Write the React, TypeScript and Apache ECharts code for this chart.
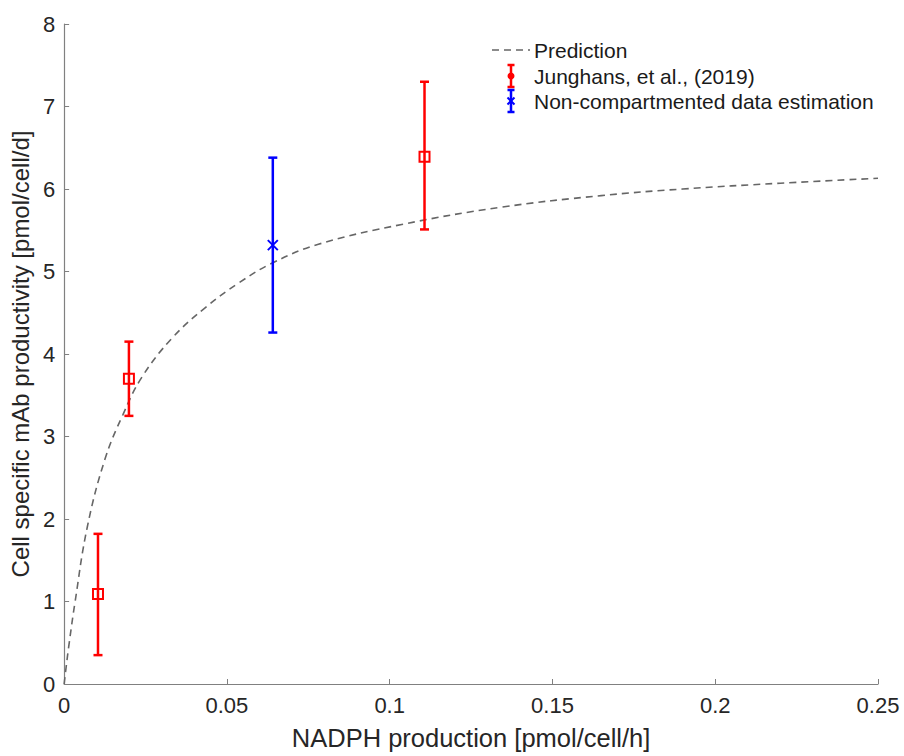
import React, { useEffect, useRef } from "react";
import * as echarts from "echarts";

// Prediction curve: [NADPH production, productivity]
const predictionX = [0, 0.0006, 0.0015, 0.0033, 0.0071, 0.0125, 0.018, 0.0239, 0.0331, 0.0433, 0.0536, 0.0638, 0.0781, 0.1037, 0.1344, 0.165, 0.19, 0.22, 0.25];
const predictionY = [0, 0.2, 0.48, 0.98, 1.9, 2.72, 3.26, 3.72, 4.19, 4.56, 4.86, 5.1, 5.33, 5.57, 5.78, 5.92, 6.0, 6.07, 6.13];

// Junghans et al. (2019): x, mean, lower, upper
const junghansX = [0.0104, 0.0199, 0.1107];
const junghansY = [1.09, 3.7, 6.39];
const junghansLow = [0.35, 3.25, 5.51];
const junghansHigh = [1.82, 4.15, 7.3];

// Non-compartmented data estimation
const ncX = [0.0641];
const ncY = [5.32];
const ncLow = [4.26];
const ncHigh = [6.38];

const xTicks = [0, 0.05, 0.1, 0.15, 0.2, 0.25];
const yTicks = [0, 1, 2, 3, 4, 5, 6, 7, 8];

const FONT = "'Liberation Sans', Arial, Helvetica, sans-serif";

function errorRender(color: string, marker: "square" | "cross") {
  return (params: any, api: any) => {
    const x = api.value(0);
    const y = api.value(1);
    const lo = api.value(2);
    const hi = api.value(3);
    const pc = api.coord([x, y]);
    const pl = api.coord([x, lo]);
    const ph = api.coord([x, hi]);
    const cw = 4.5;
    const st = { stroke: color, lineWidth: 2.5, fill: "none" };
    const children: any[] = [
      { type: "line", shape: { x1: pl[0], y1: pl[1], x2: ph[0], y2: ph[1] }, style: st },
      { type: "line", shape: { x1: pl[0] - cw, y1: pl[1], x2: pl[0] + cw, y2: pl[1] }, style: st },
      { type: "line", shape: { x1: ph[0] - cw, y1: ph[1], x2: ph[0] + cw, y2: ph[1] }, style: st },
    ];
    if (marker === "square") {
      children.push({
        type: "rect",
        shape: { x: pc[0] - 5, y: pc[1] - 5, width: 10, height: 10 },
        style: { stroke: color, lineWidth: 2, fill: "none" },
      });
    } else {
      const s = 5;
      children.push(
        { type: "line", shape: { x1: pc[0] - s, y1: pc[1] - s, x2: pc[0] + s, y2: pc[1] + s }, style: { stroke: color, lineWidth: 2 } },
        { type: "line", shape: { x1: pc[0] - s, y1: pc[1] + s, x2: pc[0] + s, y2: pc[1] - s }, style: { stroke: color, lineWidth: 2 } }
      );
    }
    return { type: "group", children };
  };
}

export default function App() {
  const ref = useRef<HTMLDivElement>(null);
  useEffect(() => {
    if (!ref.current) return;
    const chart = echarts.init(ref.current, null, { renderer: "svg" });
    const axisColor = "#808080";
    const textColor = "#262626";
    const legendX = 511;
    const legendText = 534;
    const legendRows = [50, 76, 101];
    const redIcon = (cy: number) => [
      { type: "line", shape: { x1: legendX, y1: cy - 11, x2: legendX, y2: cy + 11 }, style: { stroke: "#ff0000", lineWidth: 2.5 } },
      { type: "line", shape: { x1: legendX - 3.5, y1: cy - 11, x2: legendX + 3.5, y2: cy - 11 }, style: { stroke: "#ff0000", lineWidth: 2.5 } },
      { type: "line", shape: { x1: legendX - 3.5, y1: cy + 11, x2: legendX + 3.5, y2: cy + 11 }, style: { stroke: "#ff0000", lineWidth: 2.5 } },
      { type: "circle", shape: { cx: legendX, cy, r: 3.5 }, style: { fill: "#ff0000" } },
    ];
    const blueIcon = (cy: number) => [
      { type: "line", shape: { x1: legendX, y1: cy - 11, x2: legendX, y2: cy + 11 }, style: { stroke: "#0000ff", lineWidth: 2.5 } },
      { type: "line", shape: { x1: legendX - 3.5, y1: cy - 11, x2: legendX + 3.5, y2: cy - 11 }, style: { stroke: "#0000ff", lineWidth: 2.5 } },
      { type: "line", shape: { x1: legendX - 3.5, y1: cy + 11, x2: legendX + 3.5, y2: cy + 11 }, style: { stroke: "#0000ff", lineWidth: 2.5 } },
      { type: "line", shape: { x1: legendX - 3.5, y1: cy - 3.5, x2: legendX + 3.5, y2: cy + 3.5 }, style: { stroke: "#0000ff", lineWidth: 2 } },
      { type: "line", shape: { x1: legendX - 3.5, y1: cy + 3.5, x2: legendX + 3.5, y2: cy - 3.5 }, style: { stroke: "#0000ff", lineWidth: 2 } },
    ];
    const legendFont = { fontFamily: FONT, fontSize: 21, fill: "#1a1a1a" };
    chart.setOption({
      animation: false,
      backgroundColor: "#ffffff",
      grid: { left: 62, right: 26, top: 24, bottom: 69, containLabel: false },
      xAxis: {
        type: "value",
        min: 0,
        max: 0.25,
        interval: 0.05,
        name: "NADPH production [pmol/cell/h]",
        nameLocation: "middle",
        nameGap: 41,
        nameTextStyle: { fontFamily: FONT, fontSize: 25.5, color: textColor },
        axisLine: { show: true, lineStyle: { color: axisColor, width: 1.2 } },
        axisTick: { show: true, inside: true, length: 5, lineStyle: { color: axisColor } },
        axisLabel: {
          fontFamily: FONT,
          fontSize: 22,
          color: textColor,
          margin: 10,
          formatter: (v: number) => {
            const m = xTicks.find((t) => Math.abs(t - v) < 1e-9);
            return m === undefined ? "" : String(m);
          },
        },
        splitLine: { show: false },
      },
      yAxis: {
        type: "value",
        min: 0,
        max: 8,
        interval: 1,
        name: "Cell specific mAb productivity [pmol/cell/d]",
        nameLocation: "middle",
        nameGap: 28,
        nameTextStyle: { fontFamily: FONT, fontSize: 24, color: textColor },
        axisLine: { show: true, lineStyle: { color: axisColor, width: 1.2 } },
        axisTick: { show: true, inside: true, length: 5, lineStyle: { color: axisColor } },
        axisLabel: {
          fontFamily: FONT,
          fontSize: 22,
          color: textColor,
          margin: 9,
          formatter: (v: number) => {
            const m = yTicks.find((t) => Math.abs(t - v) < 1e-9);
            return m === undefined ? "" : String(m);
          },
        },
        splitLine: { show: false },
      },
      series: [
        {
          name: "Prediction",
          type: "line",
          data: predictionX.map((x, i) => [x, predictionY[i]]),
          showSymbol: false,
          smooth: 0.4,
          lineStyle: { color: "#666666", width: 1.6, type: [7, 5] },
          z: 2,
        },
        {
          name: "Junghans, et al., (2019)",
          type: "custom",
          renderItem: errorRender("#ff0000", "square"),
          data: junghansX.map((x, i) => [x, junghansY[i], junghansLow[i], junghansHigh[i]]),
          encode: { x: 0, y: [1, 2, 3] },
          z: 3,
        },
        {
          name: "Non-compartmented data estimation",
          type: "custom",
          renderItem: errorRender("#0000ff", "cross"),
          data: ncX.map((x, i) => [x, ncY[i], ncLow[i], ncHigh[i]]),
          encode: { x: 0, y: [1, 2, 3] },
          z: 3,
        },
      ],
      graphic: [
        {
          type: "group",
          children: [
            { type: "line", shape: { x1: 492, y1: legendRows[0], x2: 530, y2: legendRows[0] }, style: { stroke: "#666666", lineWidth: 1.6, lineDash: [7, 5] } },
            { type: "text", x: legendText, y: legendRows[0], style: { ...legendFont, text: "Prediction", verticalAlign: "middle" } },
            ...redIcon(legendRows[1]),
            { type: "text", x: legendText, y: legendRows[1], style: { ...legendFont, text: "Junghans, et al., (2019)", verticalAlign: "middle" } },
            ...blueIcon(legendRows[2]),
            { type: "text", x: legendText, y: legendRows[2], style: { ...legendFont, text: "Non-compartmented data estimation", verticalAlign: "middle" } },
          ],
        },
      ],
    });
    return () => chart.dispose();
  }, []);
  return (
    <div
      ref={ref}
      style={{ position: "fixed", left: 0, top: 0, width: 904, height: 756, background: "#fff" }}
    />
  );
}
